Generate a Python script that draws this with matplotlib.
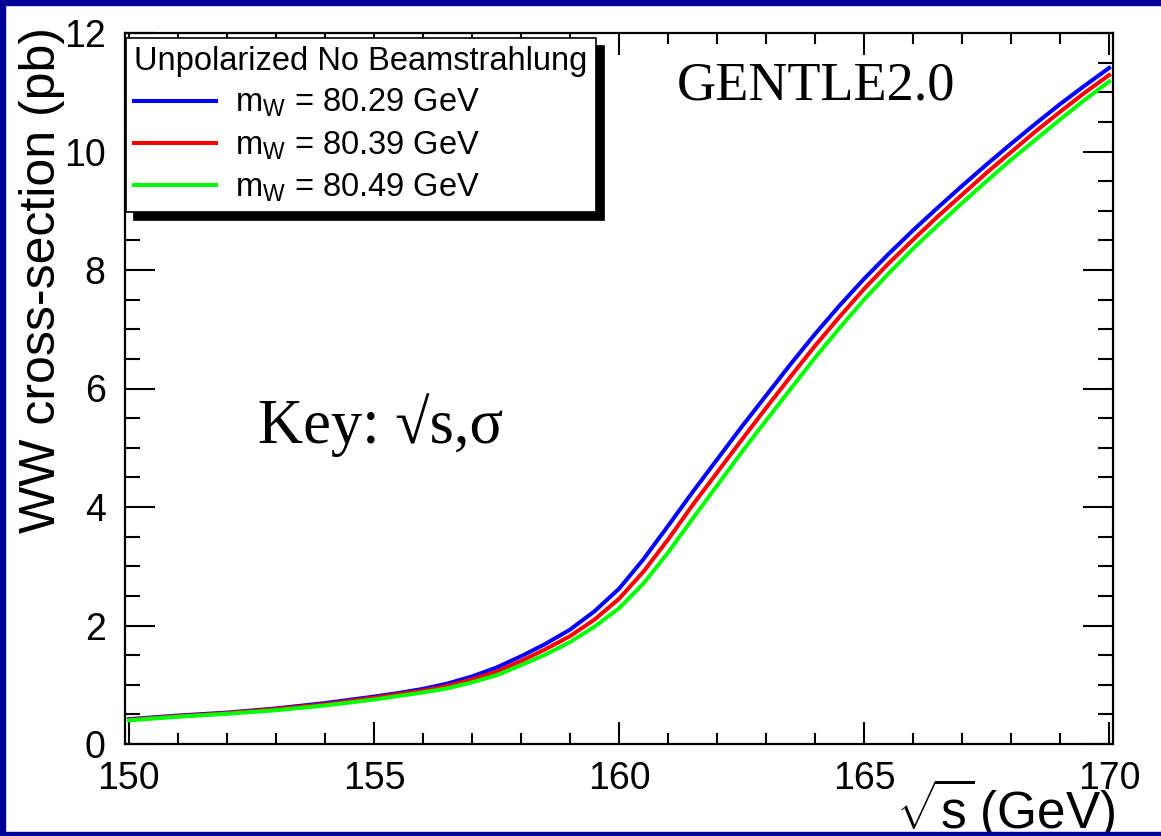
import matplotlib
matplotlib.use('Agg')
import matplotlib.pyplot as plt
from matplotlib.patches import Rectangle
from matplotlib.ticker import MultipleLocator

# ---------------- data ----------------
energy = [150, 151, 152, 153, 154,
          155, 155.5, 156, 156.5, 157, 157.5, 158, 158.5, 159, 159.5,
          160, 160.5, 161, 161.5, 162, 162.5, 163, 163.5, 164, 164.5,
          165, 165.5, 166, 166.5, 167, 167.5, 168, 168.5, 169, 169.5, 170]

xsec_8029 = [0.42, 0.48, 0.53, 0.60, 0.69,
             0.80, 0.86, 0.93, 1.02, 1.14, 1.29, 1.48, 1.69, 1.93, 2.24,
             2.62, 3.12, 3.68, 4.25, 4.80, 5.35, 5.88, 6.41, 6.92, 7.40,
             7.85, 8.27, 8.67, 9.05, 9.42, 9.78, 10.13, 10.47, 10.80, 11.11, 11.41]

xsec_8039 = [0.41, 0.47, 0.52, 0.59, 0.67,
             0.78, 0.84, 0.90, 0.98, 1.09, 1.22, 1.40, 1.60, 1.82, 2.10,
             2.45, 2.91, 3.45, 4.03, 4.58, 5.13, 5.67, 6.20, 6.72, 7.21,
             7.68, 8.11, 8.51, 8.90, 9.27, 9.64, 9.99, 10.34, 10.67, 10.99, 11.29]

xsec_8049 = [0.40, 0.46, 0.51, 0.57, 0.65,
             0.75, 0.81, 0.87, 0.94, 1.04, 1.16, 1.33, 1.51, 1.72, 1.98,
             2.29, 2.71, 3.23, 3.80, 4.36, 4.92, 5.46, 5.99, 6.52, 7.02,
             7.50, 7.94, 8.36, 8.75, 9.13, 9.50, 9.86, 10.20, 10.54, 10.87, 11.18]

series_labels = [r'm$_{\mathrm{W}}$ = 80.29 GeV',
                 r'm$_{\mathrm{W}}$ = 80.39 GeV',
                 r'm$_{\mathrm{W}}$ = 80.49 GeV']
series_colors = ['#0000ff', '#ff0000', '#00ff00']

legend_title = 'Unpolarized No Beamstrahlung'
x_label = r'$\sqrt{\mathrm{s}}\,$(GeV)'
y_label = 'WW cross-section (pb)'

# ---------------- style ----------------
plt.rcParams['font.family'] = ['Liberation Sans', 'DejaVu Sans']
plt.rcParams['mathtext.fontset'] = 'custom'
plt.rcParams['mathtext.rm'] = 'Liberation Sans'
plt.rcParams['mathtext.it'] = 'Liberation Sans:italic'
plt.rcParams['mathtext.bf'] = 'Liberation Sans:bold'

W, H = 1161, 836
fig = plt.figure(figsize=(W / 100, H / 100), dpi=100)
fig.patch.set_facecolor('white')

ax = fig.add_axes([125 / W, 1 - 744 / H, (1113 - 125) / W, (744 - 33) / H])

for ys, c, lab in zip([xsec_8029, xsec_8039, xsec_8049], series_colors, series_labels):
    ax.plot(energy, ys, color=c, lw=2.9, label=lab, solid_joinstyle='round')

ax.set_xlim(149.92, 170.08)
ax.set_ylim(0, 12)
ax.xaxis.set_major_locator(MultipleLocator(5))
ax.xaxis.set_minor_locator(MultipleLocator(1))
ax.yaxis.set_major_locator(MultipleLocator(2))
ax.yaxis.set_minor_locator(MultipleLocator(0.5))
ax.tick_params(axis='both', which='both', direction='in', top=True, right=True,
               width=1.5, labelsize=27, colors='black')
ax.tick_params(axis='x', which='major', length=16, pad=12)
ax.tick_params(axis='x', which='minor', length=8)
ax.tick_params(axis='y', which='major', length=21.5, pad=14)
ax.tick_params(axis='y', which='minor', length=11)
for sp in ax.spines.values():
    sp.set_linewidth(1.6)

leg = ax.legend(loc='upper left', bbox_to_anchor=(126 / W, 1 - 38 / H),
                bbox_transform=fig.transFigure, title=legend_title,
                title_fontsize=23.5, fontsize=23.5, alignment='left',
                frameon=True, fancybox=False, edgecolor='black', framealpha=1,
                borderpad=0.25, borderaxespad=0, handlelength=2.5,
                handletextpad=0.6, labelspacing=0.3,
                shadow={'ox': 5.8, 'oy': -5.8, 'color': 'black', 'alpha': 1})
leg.get_frame().set_linewidth(1.2)
for ln in leg.get_lines():
    ln.set_linewidth(2.9)

ax.text((677 - 125) / 988, (744 - 100) / 711, 'GENTLE2.0', transform=ax.transAxes,
        fontsize=39, family=['Liberation Serif', 'DejaVu Serif'],
        ha='left', va='baseline')
ax.text((258 - 125) / 988, (744 - 443) / 711, 'Key: \u221As,\u03c3', transform=ax.transAxes,
        fontsize=45, family=['Liberation Serif', 'DejaVu Serif'],
        ha='left', va='baseline')

fig.text(1116 / W, 1 - 829 / H, x_label, ha='right', va='baseline', fontsize=37)
fig.text(55 / W, 1 - 533 / H, y_label, rotation=90, rotation_mode='anchor',
         ha='left', va='baseline', fontsize=36)

navy = '#000099'
fig.add_artist(Rectangle((0, 0), 5 / W, 1, transform=fig.transFigure, color=navy, zorder=20))
fig.add_artist(Rectangle((0, 1 - 5 / H), 1, 5 / H, transform=fig.transFigure, color=navy, zorder=20))
fig.add_artist(Rectangle((0, 0), 1, 4 / H, transform=fig.transFigure, color=navy, zorder=20))

fig.savefig('out.png', dpi=100, facecolor='white')
